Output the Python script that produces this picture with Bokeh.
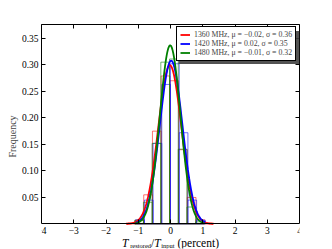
import numpy as np
from bokeh.plotting import figure
from bokeh.models import (Range1d, FixedTicker, LinearAxis, Label, Legend, LegendItem,
                          BoxAnnotation, ColumnDataSource)
from bokeh.embed import file_html
from bokeh.resources import INLINE

# ---- data ----
bin_width = 0.27
red_edges = [-1.37, -1.10, -0.83, -0.56, -0.29, -0.02, 0.25, 0.52, 0.79, 1.06, 1.33]
red_heights = [0.002, 0.007, 0.055, 0.175, 0.279, 0.270, 0.140, 0.050, 0.008, 0.002]
blue_edges = [-1.08, -0.81, -0.54, -0.27, 0.00, 0.27, 0.54, 0.81, 1.08]
blue_heights = [0.008, 0.045, 0.152, 0.263, 0.302, 0.172, 0.045, 0.007]
green_edges = [-1.11, -0.84, -0.57, -0.30, -0.03, 0.24, 0.51, 0.78, 1.05]
green_heights = [0.007, 0.041, 0.152, 0.305, 0.311, 0.141, 0.032, 0.004]

labels = ["1360 MHz, μ = −0.02, σ = 0.36",
          "1420 MHz, μ = 0.02, σ = 0.35",
          "1480 MHz, μ = −0.01, σ = 0.32"]
mus = [-0.02, 0.02, -0.01]
sigmas = [0.36, 0.35, 0.32]
colors = ["#ff0000", "#0000ff", "#008000"]

x_ticks = [-4, -3, -2, -1, 0, 1, 2, 3, 4]
x_tick_labels = ["−4", "−3", "−2", "−1", "0", "1", "2", "3", "4"]
y_ticks = [0.05, 0.10, 0.15, 0.20, 0.25, 0.30, 0.35]
y_tick_labels = ["0.05", "0.10", "0.15", "0.20", "0.25", "0.30", "0.35"]
Y_TOP = 0.376

SERIF = "Liberation Serif"

# frame runs to the bottom of the canvas so that the x label (below y=0) is inside it
p = figure(width=332, height=249, output_backend="svg", toolbar_location=None,
           x_range=Range1d(-4, 4), y_range=Range1d(-0.0462, Y_TOP),
           min_border_left=41, min_border_right=33, min_border_top=24, min_border_bottom=1)
p.background_fill_color = "white"
p.border_fill_color = "white"
p.xgrid.visible = False
p.ygrid.visible = False
p.outline_line_color = None

def style_axis(ax, ticks, overrides=None):
    ax.ticker = FixedTicker(ticks=ticks)
    ax.major_tick_in = 4
    ax.major_tick_out = 0
    ax.minor_tick_line_color = None
    ax.axis_line_color = "black"
    ax.axis_line_width = 1
    ax.major_tick_line_color = "black"
    ax.major_label_text_font = SERIF
    if overrides is not None:
        ax.major_label_overrides = {t: s for t, s in zip(ticks, overrides)}
        ax.major_label_text_color = "black"
        ax.major_label_text_font_size = "9.5px"
        ax.major_label_standoff = 3
    else:
        # tick marks only, no labels drawn
        ax.major_label_text_color = None
        ax.major_label_text_font_size = "6px"
        ax.major_label_standoff = 0

xa = p.xaxis[0]
style_axis(xa, x_ticks, x_tick_labels)
xa.fixed_location = 0

ya = p.yaxis[0]
style_axis(ya, y_ticks, y_tick_labels)
ya.bounds = (0, Y_TOP)
ya.axis_label = "Frequency"
ya.axis_label_text_font = SERIF
ya.axis_label_text_font_size = "10px"
ya.axis_label_text_font_style = "normal"
ya.axis_label_standoff = 1

top_ax = LinearAxis()
style_axis(top_ax, x_ticks)
p.add_layout(top_ax, "above")
right_ax = LinearAxis()
style_axis(right_ax, y_ticks)
right_ax.bounds = (0, Y_TOP)
p.add_layout(right_ax, "right")

# histograms (bar outlines)
for edges, heights, c in [(red_edges, red_heights, colors[0]),
                          (blue_edges, blue_heights, colors[1]),
                          (green_edges, green_heights, colors[2])]:
    src = ColumnDataSource(dict(left=edges[:-1], right=edges[1:],
                                top=heights, bottom=[0] * len(heights)))
    p.quad(left="left", right="right", top="top", bottom="bottom", source=src,
           fill_color=None, line_color=c, line_alpha=0.55, line_width=1)

# fitted Gaussian curves, from the legend parameters
items = []
for edges, mu, s, c, lab in zip([red_edges, blue_edges, green_edges], mus, sigmas, colors, labels):
    xs = np.linspace(edges[0], edges[-1], 200)
    ys = bin_width / (s * np.sqrt(2 * np.pi)) * np.exp(-(xs - mu) ** 2 / (2 * s ** 2))
    r = p.line(xs, ys, line_color=c, line_width=1.8)
    items.append(LegendItem(label=lab, renderers=[r]))

# legend shadow (screen px from frame bottom-left)
shadow = BoxAnnotation(left=137, right=258, bottom=184.5, top=217.5,
                       left_units="screen", right_units="screen",
                       bottom_units="screen", top_units="screen",
                       fill_color="#404040", fill_alpha=0.9, line_color=None)
p.add_layout(shadow)

legend = Legend(items=items, location=(135, 187))
legend.label_text_font = SERIF
legend.label_text_font_size = "7.8px"
legend.label_height = 9
legend.glyph_height = 9
legend.glyph_width = 10
legend.label_standoff = 4
legend.padding = 3
legend.spacing = 0
legend.margin = 0
legend.border_line_color = "black"
legend.border_line_width = 1
legend.border_line_alpha = 1
legend.background_fill_color = "white"
legend.background_fill_alpha = 1
p.add_layout(legend, "center")

# x axis label with subscripts (data coords, below y = 0)
def lab(x, y, t, size, style="normal"):
    p.add_layout(Label(x=x, y=y, text=t, text_font=SERIF, text_font_size=size,
                       text_font_style=style, text_color="black",
                       text_align="left", text_baseline="alphabetic"))

base = -0.0362
sub = -0.0400
lab(-1.507, base, "T", "11.5px", "italic")
lab(-1.25, sub, "restored", "6.5px")
lab(-0.608, base, "/", "11.5px")
lab(-0.505, base, "T", "11.5px", "italic")
lab(-0.288, sub, "input", "6.5px")
lab(0.217, base, "(percent)", "11.5px")

open("out.html", "w").write(file_html(p, INLINE))
